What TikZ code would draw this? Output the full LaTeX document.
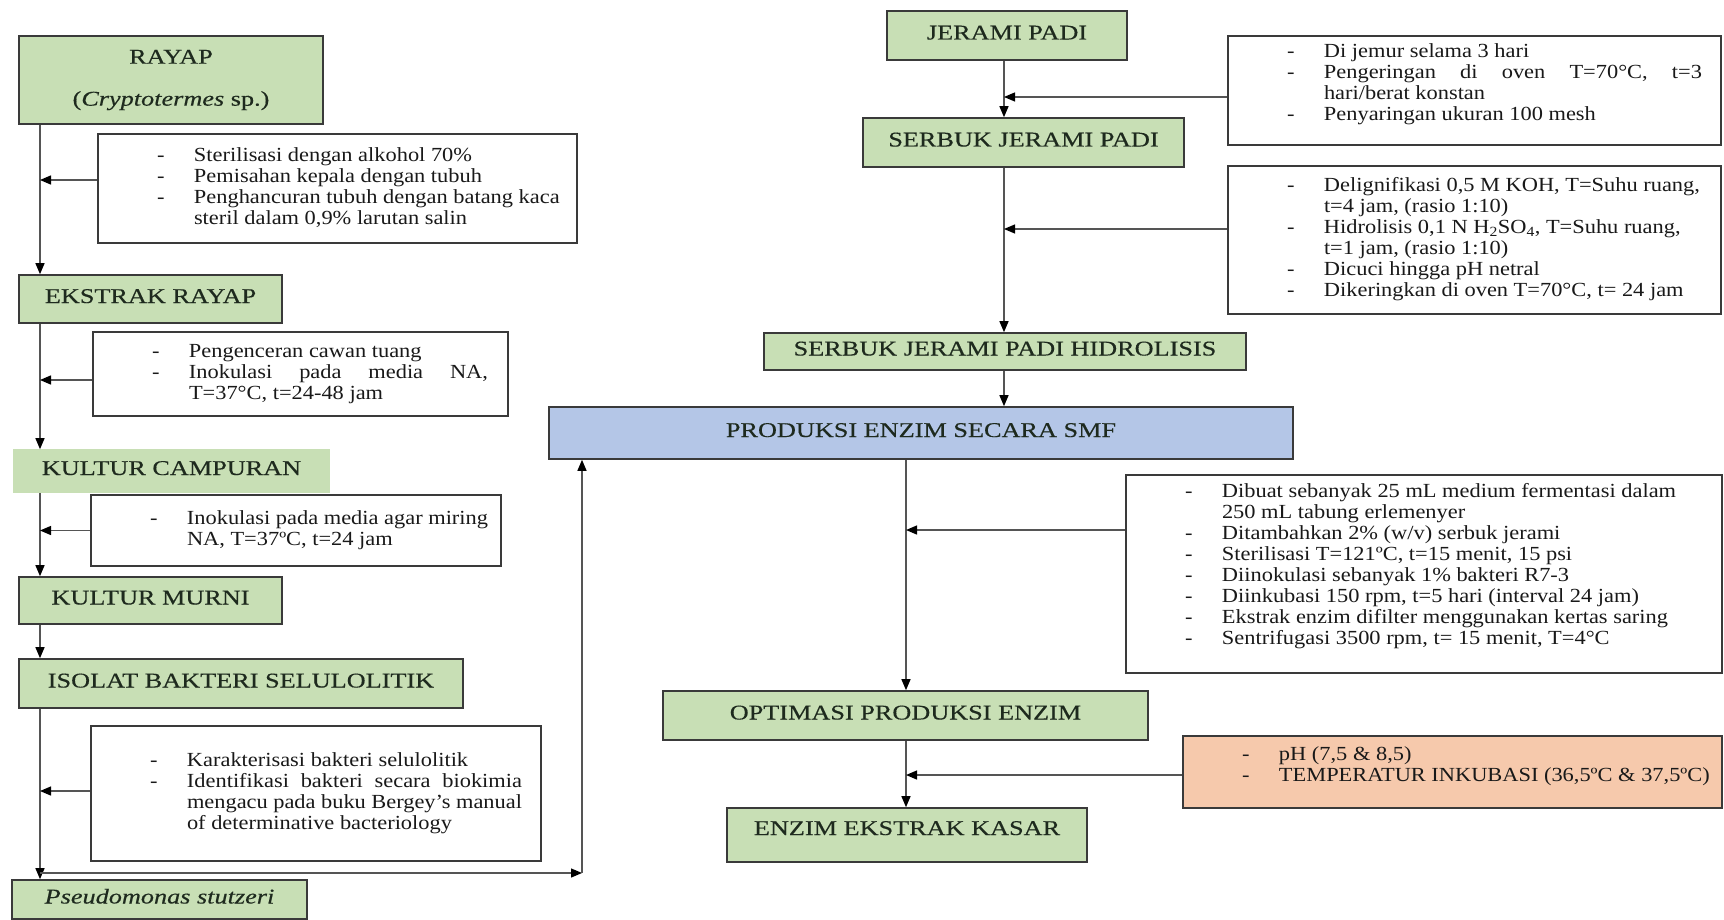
\documentclass[tikz,border=0pt]{standalone}
\usepackage{fontspec}
\setmainfont{Liberation Serif}
\newfontfamily\notefont{Liberation Serif}[FakeStretch=1.12]
\newfontfamily\labfont{Liberation Serif}[FakeStretch=1.25,FakeBold=0.4]
\usetikzlibrary{arrows.meta}
\definecolor{gfill}{HTML}{C8DFB5}
\definecolor{bfill}{HTML}{B4C6E7}
\definecolor{ofill}{HTML}{F6C9AC}
\definecolor{bline}{HTML}{3A3A3A}
\definecolor{aline}{HTML}{555555}
\definecolor{labtext}{HTML}{1E2A1E}
\newcommand{\Ndash}{\makebox[37pt][l]{-}}
\newcommand{\Nind}{\hspace*{37pt}}
\newcommand{\Njust}[2]{\makebox[#1][s]{#2}}
\newcommand{\Nbody}[2]{\makebox[#1][l]{\hspace*{59pt}\begin{tabular}{@{}l@{}}#2\end{tabular}}}
\newcommand{\bx}[7]{\node[#1, minimum width={(#5)-(#3)}, minimum height={(#6)-(#4)}] (#2) at ({((#3)+(#5))/2},{((#4)+(#6))/2}) {#7};}
\tikzset{
  greenbox/.style={draw=bline, line width=1.6pt, fill=gfill, inner sep=0pt, align=center,
    text=labtext, font=\labfont\fontsize{21}{26}\selectfont},
  oneline/.style={text height=14pt, text depth=6pt},
  notebox/.style={draw=bline, line width=1.6pt, fill=white, inner sep=0pt, text=black!90,
    font=\notefont\fontsize{20}{21}\selectfont},
  arr/.style={draw=aline, line width=1.3pt, -{Triangle[length=11pt,width=9pt,color=black]}},
}
\begin{document}
\begin{tikzpicture}[x=1pt,y=-1pt]
\path[use as bounding box, fill=white] (0,0) rectangle (1724,920);

% ---------- left column ----------
\bx{greenbox}{rayap}{19}{36}{323}{124}{RAYAP\\[16pt](\textit{Cryptotermes} sp.)}
\bx{notebox}{n1}{98}{134}{577}{243}{\Nbody{479pt}{%
\Ndash Sterilisasi dengan alkohol 70\%\\
\Ndash Pemisahan kepala dengan tubuh\\
\Ndash Penghancuran tubuh dengan batang kaca\\
\Nind steril dalam 0,9\% larutan salin}}
\bx{greenbox, oneline}{ekstrak}{19}{275}{282}{323}{EKSTRAK RAYAP}
\bx{notebox}{n2}{93}{332}{508}{416}{\Nbody{415pt}{%
\Ndash Pengenceran cawan tuang\\
\Ndash \Njust{299pt}{Inokulasi pada media NA,}\\
\Nind T=37°C, t=24-48 jam}}
\bx{greenbox, oneline, draw=gfill}{campuran}{14}{450}{329}{492}{KULTUR CAMPURAN}
\bx{notebox}{n3}{91}{495}{501}{566}{\Nbody{410pt}{%
\Ndash Inokulasi pada media agar miring\\
\Nind NA, T=37ºC, t=24 jam}}
\bx{greenbox, oneline}{murni}{19}{577}{282}{624}{KULTUR MURNI}
\bx{greenbox, oneline}{isolat}{19}{659}{463}{708}{ISOLAT BAKTERI SELULOLITIK}
\bx{notebox}{n4}{91}{726}{541}{861}{\Nbody{450pt}{%
\Ndash Karakterisasi bakteri selulolitik\\
\Ndash \Njust{335pt}{Identifikasi bakteri secara biokimia}\\
\Nind \Njust{335pt}{mengacu pada buku Bergey’s manual}\\
\Nind of determinative bacteriology}}
\bx{greenbox, oneline}{pseudo}{12}{880}{307}{919}{\textit{Pseudomonas stutzeri}}

\coordinate (lx) at (40,0);
\coordinate (bend) at (582,873);
\draw[arr] (rayap.south -| lx) -- (ekstrak.north -| lx);
\draw[arr] (ekstrak.south -| lx) -- (campuran.north -| lx);
\draw[arr] (campuran.south -| lx) -- (murni.north -| lx);
\draw[arr] (murni.south -| lx) -- (isolat.north -| lx);
\draw[arr] (isolat.south -| lx) -- (pseudo.north -| lx);
\draw[arr] ([yshift=8.5pt]n1.west) -- ([yshift=8.5pt]n1.west -| lx);
\draw[arr] ([yshift=-6pt]n2.west) -- ([yshift=-6pt]n2.west -| lx);
\draw[arr] (n3.west) -- (n3.west -| lx);
\draw[arr] ([yshift=2.5pt]n4.west) -- ([yshift=2.5pt]n4.west -| lx);

% ---------- right column ----------
\bx{greenbox, oneline}{jerami}{887}{11}{1127}{60}{JERAMI PADI}
\bx{notebox}{na}{1228}{36}{1721}{145}{\Nbody{493pt}{%
\Ndash Di jemur selama 3 hari\\
\Ndash \Njust{378pt}{Pengeringan di oven T=70°C, t=3}\\
\Nind hari/berat konstan\\
\Ndash Penyaringan ukuran 100 mesh\\[11pt]}}
\bx{greenbox, oneline}{serbuk}{863}{118}{1184}{167}{SERBUK JERAMI PADI}
\bx{notebox}{nb}{1228}{166}{1721}{314}{\Nbody{493pt}{%
\Ndash Delignifikasi 0,5 M KOH, T=Suhu ruang,\\
\Nind t=4 jam, (rasio 1:10)\\
\Ndash Hidrolisis 0,1 N H\textsubscript{2}SO\textsubscript{4}, T=Suhu ruang,\\
\Nind t=1 jam, (rasio 1:10)\\
\Ndash Dicuci hingga pH netral\\
\Ndash Dikeringkan di oven T=70°C, t= 24 jam}}
\bx{greenbox, oneline}{hidro}{764}{333}{1246}{370}{SERBUK JERAMI PADI HIDROLISIS}
\bx{greenbox, oneline, fill=bfill}{produksi}{549}{407}{1293}{459}{PRODUKSI ENZIM SECARA SMF}
\bx{notebox}{nsmf}{1126}{475}{1722}{673}{\Nbody{596pt}{%
\Ndash Dibuat sebanyak 25 mL medium fermentasi dalam\\
\Nind 250 mL tabung erlemenyer\\
\Ndash Ditambahkan 2\% (w/v) serbuk jerami\\
\Ndash Sterilisasi T=121ºC, t=15 menit, 15 psi\\
\Ndash Diinokulasi sebanyak 1\% bakteri R7-3\\
\Ndash Diinkubasi 150 rpm, t=5 hari (interval 24 jam)\\
\Ndash Ekstrak enzim difilter menggunakan kertas saring\\
\Ndash Sentrifugasi 3500 rpm, t= 15 menit, T=4°C\\[14pt]}}
\bx{greenbox, oneline}{optimasi}{663}{691}{1148}{740}{OPTIMASI PRODUKSI ENZIM}
\bx{notebox, fill=ofill}{nor}{1183}{736}{1722}{808}{\Nbody{539pt}{%
\Ndash pH (7,5 \& 8,5)\\
\Ndash TEMPERATUR INKUBASI (36,5ºC \& 37,5ºC)\\[10pt]}}
\bx{greenbox, oneline, text depth=14pt}{enzim}{727}{808}{1087}{862}{ENZIM EKSTRAK KASAR}

\coordinate (rx) at (1004,0);
\coordinate (mx) at (906,0);
\draw[arr] (jerami.south -| rx) -- (serbuk.north -| rx);
\draw[arr] (serbuk.south -| rx) -- (hidro.north -| rx);
\draw[arr] (hidro.south -| rx) -- (produksi.north -| rx);
\draw[arr] (produksi.south -| mx) -- (optimasi.north -| mx);
\draw[arr] (optimasi.south -| mx) -- (enzim.north -| mx);
\draw[arr] ([yshift=-6.5pt]na.west) -- ([yshift=-6.5pt]na.west -| rx);
\draw[arr] ([yshift=11pt]nb.west) -- ([yshift=11pt]nb.west -| rx);
\draw[arr] ([yshift=44pt]nsmf.west) -- ([yshift=44pt]nsmf.west -| mx);
\draw[arr] ([yshift=-3pt]nor.west) -- ([yshift=-3pt]nor.west -| mx);

% ---------- link to SMF ----------
\draw[arr] (lx |- bend) -- (bend);
\draw[arr] (bend) -- (produksi.south -| bend);
\end{tikzpicture}
\end{document}
